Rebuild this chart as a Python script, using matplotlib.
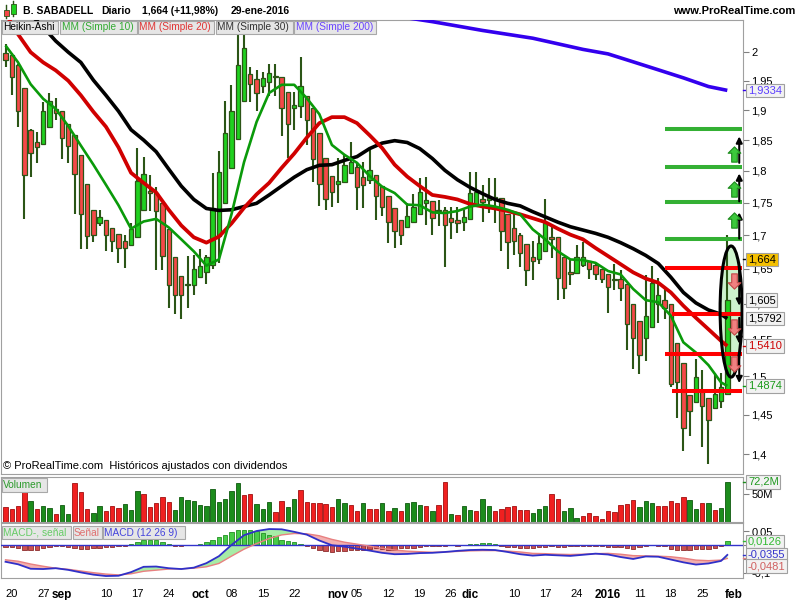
import matplotlib
matplotlib.use("Agg")
import matplotlib.pyplot as plt
import matplotlib.transforms as mtransforms
from matplotlib.patches import Ellipse, Rectangle
from matplotlib.path import Path
from matplotlib.ticker import FixedLocator, FixedFormatter, NullLocator
import numpy as np
import pandas as pd

plt.rcParams['font.family'] = ['Liberation Sans', 'DejaVu Sans']

# trading calendar (Madrid, no session on 25-dic and 1-ene)
days = pd.bdate_range('2015-08-19', '2016-02-01')
days = days[~days.isin(pd.to_datetime(['2015-12-25', '2016-01-01']))]

# Heikin-Ashi candles, 19-ago-2015 .. 29-ene-2016
ha_open = [1.999, 1.995, 1.977, 1.937, 1.866, 1.847, 1.843, 1.871, 1.902, 1.898,
           1.877, 1.858, 1.826, 1.779, 1.739, 1.719, 1.723, 1.711, 1.702, 1.692,
           1.686, 1.697, 1.738, 1.769, 1.765, 1.749, 1.709, 1.667, 1.640, 1.626,
           1.627, 1.638, 1.646, 1.656, 1.699, 1.749, 1.805, 1.852, 1.915, 1.961,
           1.953, 1.941, 1.948, 1.956, 1.957, 1.930, 1.903, 1.906, 1.924, 1.904,
           1.861, 1.821, 1.792, 1.779, 1.782, 1.796, 1.806, 1.791, 1.785, 1.793,
           1.776, 1.760, 1.741, 1.724, 1.713, 1.721, 1.732, 1.750, 1.752, 1.739,
           1.738, 1.727, 1.724, 1.721, 1.725, 1.745, 1.756, 1.754, 1.756, 1.757,
           1.732, 1.711, 1.701, 1.687, 1.668, 1.665, 1.676, 1.698, 1.697, 1.667,
           1.645, 1.644, 1.656, 1.662, 1.656, 1.650, 1.643, 1.636, 1.635, 1.628,
           1.600, 1.576, 1.552, 1.567, 1.599, 1.605, 1.600, 1.545, 1.518, 1.476,
           1.466, 1.482, 1.472, 1.458, 1.468, 1.477]
ha_high = [2.015, 1.998, 1.980, 1.937, 1.868, 1.864, 1.914, 1.929, 1.920, 1.898,
           1.877, 1.858, 1.826, 1.779, 1.739, 1.739, 1.723, 1.711, 1.702, 1.700,
           1.718, 1.837, 1.823, 1.794, 1.775, 1.749, 1.709, 1.667, 1.640, 1.669,
           1.670, 1.679, 1.670, 1.797, 1.832, 1.915, 1.943, 2.050, 2.050, 1.974,
           1.968, 1.966, 1.979, 1.980, 1.957, 1.930, 1.931, 1.992, 1.924, 1.904,
           1.861, 1.821, 1.792, 1.821, 1.825, 1.847, 1.812, 1.815, 1.833, 1.793,
           1.776, 1.760, 1.741, 1.724, 1.750, 1.763, 1.789, 1.791, 1.752, 1.754,
           1.744, 1.744, 1.744, 1.739, 1.799, 1.799, 1.778, 1.789, 1.789, 1.757,
           1.732, 1.732, 1.703, 1.687, 1.692, 1.703, 1.756, 1.714, 1.698, 1.667,
           1.664, 1.686, 1.690, 1.662, 1.657, 1.650, 1.643, 1.657, 1.649, 1.628,
           1.600, 1.576, 1.641, 1.655, 1.637, 1.623, 1.600, 1.545, 1.518, 1.476,
           1.523, 1.508, 1.472, 1.505, 1.505, 1.700]
ha_low = [1.974, 1.925, 1.872, 1.725, 1.790, 1.812, 1.843, 1.871, 1.884, 1.819,
          1.812, 1.733, 1.680, 1.680, 1.690, 1.714, 1.677, 1.675, 1.659, 1.652,
          1.686, 1.697, 1.738, 1.737, 1.649, 1.649, 1.594, 1.585, 1.578, 1.594,
          1.613, 1.637, 1.628, 1.650, 1.659, 1.749, 1.805, 1.852, 1.915, 1.914,
          1.898, 1.929, 1.923, 1.923, 1.856, 1.821, 1.867, 1.886, 1.842, 1.783,
          1.745, 1.739, 1.743, 1.750, 1.782, 1.796, 1.739, 1.742, 1.779, 1.724,
          1.730, 1.689, 1.681, 1.686, 1.713, 1.720, 1.732, 1.716, 1.701, 1.714,
          1.653, 1.695, 1.704, 1.707, 1.725, 1.745, 1.720, 1.734, 1.719, 1.677,
          1.650, 1.670, 1.653, 1.625, 1.634, 1.657, 1.676, 1.666, 1.605, 1.607,
          1.627, 1.644, 1.653, 1.635, 1.634, 1.629, 1.587, 1.619, 1.604, 1.536,
          1.510, 1.503, 1.521, 1.567, 1.573, 1.578, 1.486, 1.445, 1.404, 1.423,
          1.466, 1.409, 1.388, 1.458, 1.458, 1.477]
ha_close = [1.987, 1.957, 1.898, 1.794, 1.829, 1.838, 1.898, 1.915, 1.895, 1.853,
            1.841, 1.795, 1.732, 1.699, 1.701, 1.728, 1.700, 1.691, 1.681, 1.681,
            1.710, 1.784, 1.795, 1.765, 1.737, 1.669, 1.626, 1.613, 1.612, 1.628,
            1.650, 1.654, 1.667, 1.742, 1.799, 1.861, 1.898, 1.977, 2.007, 1.945,
            1.929, 1.955, 1.964, 1.959, 1.903, 1.876, 1.909, 1.941, 1.883, 1.819,
            1.780, 1.756, 1.766, 1.784, 1.810, 1.815, 1.775, 1.778, 1.801, 1.760,
            1.744, 1.721, 1.707, 1.701, 1.729, 1.744, 1.767, 1.754, 1.727, 1.737,
            1.715, 1.720, 1.719, 1.728, 1.765, 1.767, 1.751, 1.758, 1.759, 1.706,
            1.690, 1.691, 1.673, 1.649, 1.661, 1.688, 1.719, 1.695, 1.637, 1.622,
            1.643, 1.668, 1.668, 1.650, 1.643, 1.636, 1.624, 1.634, 1.622, 1.571,
            1.552, 1.529, 1.582, 1.630, 1.612, 1.594, 1.490, 1.492, 1.433, 1.455,
            1.499, 1.461, 1.443, 1.477, 1.486, 1.605]

# volume in millions, colour of each day
volume = [27.7, 24, 29.5, 55, 38.5, 24, 29.5, 26, 15, 30.7,
          15, 71, 54, 24, 17, 29.5, 20.5, 29.5, 26, 33,
          22, 56.5, 51, 27.7, 35, 45.7, 36.7, 22, 45.7, 40,
          38.5, 31, 29.5, 60, 36.7, 42, 56.5, 71, 49, 51,
          33, 24, 36.7, 18.6, 38.5, 27.7, 42, 58, 36.7, 35,
          35, 33, 27.7, 42, 35, 31, 20.5, 35, 24, 24,
          35, 20.5, 26, 20.5, 34.3, 36.1, 31.3, 29.5, 19.9, 31.3,
          72.2, 15, 12.6, 28.9, 21.7, 19.9, 41.5, 28.9, 20.5, 23.5,
          27.1, 29.5, 21.7, 21.7, 16.2, 23.5, 28.9, 50.5, 41.5, 19.9,
          25.3, 7.2, 11.4, 16.2, 10.8, 5.4, 19.9, 18, 31.3, 33.1,
          39.7, 27.7, 37.9, 34.3, 29.5, 29.5, 37.9, 34.3, 45.1, 39.7,
          23.5, 34.3, 34.3, 21.7, 25.3, 72.2]
vol_dir = ("RRRRGRGGRGGRRRGGRRRGGGRRRRRGGGGGGGGGGGRRGGGRRGGRRRRRRGGRRGRRGRG"
           "RGGGRGRRGRGGRGGRRRRRRGGGRRGGGRRRRRRRRRGGGRRRRRGGRGRGG")

# moving averages and MACD lines, read every second session
ma_idx = list(range(0, 116, 2)) + [115]
sma10 = [2.012, 1.982, 1.944, 1.919, 1.902, 1.873, 1.841, 1.810, 1.778, 1.746,
         1.710, 1.721, 1.725, 1.712, 1.694, 1.676, 1.655, 1.664, 1.732, 1.814,
         1.880, 1.929, 1.943, 1.943, 1.920, 1.893, 1.842, 1.826, 1.813, 1.792,
         1.775, 1.765, 1.747, 1.746, 1.735, 1.734, 1.737, 1.744, 1.747, 1.744,
         1.739, 1.732, 1.709, 1.694, 1.676, 1.664, 1.663, 1.659, 1.647, 1.642,
         1.621, 1.605, 1.602, 1.583, 1.546, 1.532, 1.515, 1.492, 1.4874]
sma20 = [2.070, 2.032, 2.000, 1.982, 1.968, 1.950, 1.925, 1.897, 1.872, 1.838,
         1.797, 1.781, 1.766, 1.739, 1.715, 1.697, 1.689, 1.698, 1.718, 1.742,
         1.763, 1.781, 1.805, 1.828, 1.854, 1.878, 1.888, 1.888, 1.878, 1.858,
         1.837, 1.810, 1.791, 1.776, 1.762, 1.759, 1.755, 1.748, 1.744, 1.741,
         1.737, 1.732, 1.726, 1.720, 1.710, 1.701, 1.694, 1.681, 1.669, 1.657,
         1.645, 1.636, 1.630, 1.616, 1.597, 1.580, 1.564, 1.548, 1.541]
sma30 = [2.120, 2.090, 2.068, 2.045, 2.020, 2.000, 1.982, 1.951, 1.925, 1.898,
         1.867, 1.850, 1.831, 1.803, 1.776, 1.755, 1.741, 1.738, 1.739, 1.744,
         1.749, 1.762, 1.776, 1.790, 1.802, 1.809, 1.810, 1.817, 1.823, 1.836,
         1.845, 1.849, 1.846, 1.836, 1.820, 1.801, 1.786, 1.774, 1.764, 1.755,
         1.749, 1.745, 1.736, 1.728, 1.720, 1.713, 1.708, 1.703, 1.697, 1.689,
         1.680, 1.670, 1.658, 1.638, 1.616, 1.601, 1.591, 1.585, 1.579]
sma200_idx = [60, 64, 68, 72, 76, 80, 84, 88, 92, 96, 100, 104, 108, 112, 115]
sma200 = [2.068, 2.062, 2.055, 2.047, 2.039, 2.032, 2.025, 2.015, 2.005, 1.997,
          1.983, 1.969, 1.955, 1.940, 1.9334]
macd = [-0.060, -0.069, -0.085, -0.086, -0.083, -0.089, -0.098, -0.106, -0.111, -0.110,
        -0.097, -0.078, -0.077, -0.083, -0.086, -0.081, -0.065, -0.040, -0.000, 0.035,
        0.050, 0.057, 0.056, 0.047, 0.037, 0.016, -0.001, -0.006, -0.013, -0.020,
        -0.028, -0.033, -0.032, -0.029, -0.028, -0.025, -0.021, -0.018, -0.017, -0.018,
        -0.025, -0.033, -0.038, -0.035, -0.037, -0.039, -0.035, -0.031, -0.034, -0.043,
        -0.050, -0.041, -0.042, -0.052, -0.062, -0.070, -0.066, -0.057, -0.0355]
signal = [-0.053, -0.058, -0.068, -0.076, -0.083, -0.087, -0.093, -0.099, -0.104, -0.107,
          -0.103, -0.094, -0.090, -0.086, -0.085, -0.083, -0.078, -0.066, -0.040, -0.015,
          0.005, 0.023, 0.036, 0.041, 0.040, 0.033, 0.020, 0.010, 0.003, -0.004,
          -0.012, -0.018, -0.022, -0.024, -0.026, -0.025, -0.023, -0.021, -0.020, -0.020,
          -0.022, -0.025, -0.030, -0.031, -0.033, -0.034, -0.033, -0.031, -0.030, -0.033,
          -0.038, -0.039, -0.040, -0.042, -0.047, -0.054, -0.056, -0.054, -0.0481]
macd_hist = [-0.007, -0.007, -0.012, -0.019, -0.019, -0.017, -0.012, -0.007, -0.003, -0.004,
             -0.007, -0.010, -0.013, -0.013, -0.010, -0.010, -0.008, -0.006, -0.004, -0.002,
             0.003, 0.012, 0.019, 0.019, 0.017, 0.010, 0.002, -0.004, -0.004, -0.001,
             0.001, 0.005, 0.010, 0.017, 0.029, 0.037, 0.045, 0.055, 0.055, 0.052,
             0.049, 0.043, 0.037, 0.031, 0.017, 0.014, 0.010, 0.005, -0.005, -0.011,
             -0.017, -0.023, -0.024, -0.023, -0.020, -0.018, -0.019, -0.017, -0.014, -0.012,
             -0.014, -0.017, -0.017, -0.012, -0.012, -0.010, -0.006, -0.003, -0.002, -0.003,
             -0.002, 0.000, -0.002, 0.000, 0.003, 0.004, 0.006, 0.006, 0.004, -0.002,
             -0.006, -0.008, -0.010, -0.011, -0.011, -0.008, -0.007, -0.004, -0.006, -0.006,
             -0.005, -0.005, -0.004, -0.002, -0.003, -0.005, -0.006, -0.007, -0.008, -0.010,
             -0.014, -0.008, -0.003, -0.001, -0.002, -0.005, -0.013, -0.017, -0.019, -0.017,
             -0.015, -0.014, -0.013, -0.010, -0.005, 0.0126]

# hand drawn levels on the right
green_levels = [1.868, 1.806, 1.7505, 1.695]
red_levels = [1.652, 1.585, 1.530, 1.480]
up_arrows = [(1.695, 1.735), (1.752, 1.796), (1.813, 1.856)]
down_arrows = [(1.650, 1.597), (1.580, 1.544), (1.526, 1.491)]
green_marks = [1.723, 1.771, 1.8275]
red_marks = [1.632, 1.567, 1.517]
ellipse_top, ellipse_bot = 1.684, 1.499

price_ticks = [1.4, 1.45, 1.5, 1.55, 1.6, 1.65, 1.7, 1.75, 1.8, 1.85, 1.9, 1.95, 2.0]
price_tick_lbls = ['1,4', '1,45', '1,5', '1,55', '1,6', '1,65', '1,7', '1,75', '1,8',
                   '1,85', '1,9', '1,95', '2']

tick_dates = ['2015-08-20', '2015-08-27', '2015-09-01', '2015-09-10', '2015-09-17',
              '2015-09-24', '2015-10-01', '2015-10-08', '2015-10-15', '2015-10-22',
              '2015-11-02', '2015-11-05', '2015-11-12', '2015-11-19', '2015-11-26',
              '2015-12-01', '2015-12-10', '2015-12-17', '2015-12-24', '2016-01-04',
              '2016-01-11', '2016-01-18', '2016-01-25', '2016-02-01']
tick_lbls = ['20', '27', 'sep', '10', '17', '24', 'oct', '08', '15', '22', 'nov', '05',
             '12', '19', '26', 'dic', '10', '17', '24', '2016', '11', '18', '25', 'feb']
month_lbls = {'sep', 'oct', 'nov', 'dic', '2016', 'feb'}

# ------------------------------------------------------------------
W, H = 800, 600
fig = plt.figure(figsize=(8, 6), dpi=100)
fig.patch.set_facecolor('white')


def px_axes(x0, y0, x1, y1):
    return fig.add_axes([x0 / W, 1 - y1 / H, (x1 - x0) / W, (y1 - y0) / H])


def fig_rect(x0, y0, x1, y1, fc, ec, lw=0.8, z=1):
    fig.patches.append(Rectangle((x0 / W, 1 - y1 / H), (x1 - x0) / W, (y1 - y0) / H,
                                 transform=fig.transFigure, fc=fc, ec=ec, lw=lw, zorder=z))


def legend_box(x0, x1, y0, y1, text, color):
    fig_rect(x0, y0, x1, y1, '#e6e6e6', '#a8a8a8', z=5)
    fig.text((x0 + 1.5) / W, 1 - (y0 + y1) / 2 / H, text, color=color, fontsize=7.3,
             va='center', ha='left', zorder=6)


ax = px_axes(0.5, 20, 743, 474)
axv = px_axes(0.5, 477, 743, 522)
axm = px_axes(0.5, 523, 743, 578)

x = np.arange(len(ha_open))
o = np.array(ha_open)
c = np.array(ha_close)
up = c >= o
wick_col = '#2b5516'

for a in (ax, axv, axm):
    a.set_xlim(-0.8, 117.5)
    for s in a.spines.values():
        s.set_color('#a0a0a0')
        s.set_linewidth(0.8)
    a.tick_params(axis='x', bottom=False, labelbottom=False)
    a.yaxis.tick_right()
    a.tick_params(axis='y', direction='out', length=4, width=0.8, color='#808080',
                  labelsize=8, pad=2)

# ---- price panel
ax.set_yscale('log')
ax.set_ylim(1.3755, 2.058)
ax.yaxis.set_major_locator(FixedLocator(price_ticks))
ax.yaxis.set_major_formatter(FixedFormatter(price_tick_lbls))
ax.yaxis.set_minor_locator(NullLocator())

ax.vlines(x, ha_low, ha_high, color=wick_col, lw=1.5, zorder=2)
ax.bar(x, np.maximum(np.abs(c - o), 0.0015), bottom=np.minimum(o, c), width=0.7,
       color=np.where(up, '#1fd11f', '#f54848'), edgecolor=wick_col, linewidth=0.9,
       zorder=3)

ax.plot(sma200_idx, sma200, color='#3300ee', lw=2.6, zorder=4, solid_capstyle='butt')
ax.plot(ma_idx, sma30, color='black', lw=2.6, zorder=4, solid_capstyle='butt')
ax.plot(ma_idx, sma20, color='#d00000', lw=2.7, zorder=4, solid_capstyle='butt')
ax.plot(ma_idx, sma10, color='#0a9a0a', lw=1.9, zorder=4, solid_capstyle='butt')

# hand drawn analysis
ec = (ellipse_top + ellipse_bot) / 2
eh = ellipse_top - ellipse_bot
ax.add_patch(Ellipse((115.6, ec), 3.5, eh, fc='#cdf2cd', ec='none', zorder=1.5))
ax.add_patch(Ellipse((115.6, ec), 3.5, eh, fc='none', ec='black', lw=2.2, zorder=7))
for g in green_levels:
    ax.plot([105.1, 117.3], [g, g], color='#34b034', lw=2.9, zorder=6,
            solid_capstyle='butt')
for r, x0 in zip(red_levels, [105.1, 106.2, 105.1, 106.2]):
    ax.plot([x0, 117.3], [r, r], color='#ff0000', lw=2.9, zorder=6,
            solid_capstyle='butt')
for base, tip in up_arrows + down_arrows:
    ax.annotate('', xy=(116.9, tip), xytext=(116.9, base), annotation_clip=False,
                arrowprops=dict(arrowstyle='-|>', color='black', lw=1.5,
                                mutation_scale=9, shrinkA=0, shrinkB=0), zorder=8)
up_path = Path([(-0.5, 0.1), (0, 0.6), (0.5, 0.1), (0.22, 0.1), (0.22, -0.6),
                (-0.22, -0.6), (-0.22, 0.1), (-0.5, 0.1)], closed=True)
down_path = Path([(px, -py) for px, py in up_path.vertices], closed=True)
for g in green_marks:
    ax.plot(116.1, g, marker=up_path, ms=11, mfc='#3cc83c', mec='#1c8a1c', mew=0.8,
            zorder=8, clip_on=False)
for r in red_marks:
    ax.plot(116.1, r, marker=down_path, ms=11, mfc='#f08080', mec='#c04848', mew=0.8,
            zorder=8, clip_on=False)

ax.text(0.004, 0.017, '\u00a9 ProRealTime.com  Hist\u00f3ricos ajustados con dividendos',
        transform=ax.transAxes, fontsize=8, va='center', ha='left')


def value_box(axis, v, s, tc, bg='#f2f2f2', mark=None, dy=0):
    tr = mtransforms.blended_transform_factory(axis.transAxes, axis.transData)
    if mark:
        axis.plot([1.0, 1.006], [v, v], transform=tr, color=mark, lw=1.0,
                  clip_on=False, zorder=9)
    axis.annotate(s, xy=(1.0067, v), xycoords=tr, xytext=(0, dy),
                  textcoords='offset points', fontsize=8, va='center', ha='left',
                  color=tc, annotation_clip=False, zorder=10,
                  bbox=dict(boxstyle='square,pad=0.15', fc=bg, ec='#a0a0a0', lw=0.8))


value_box(ax, 1.9334, '1,9334', '#5a3cff', mark='#3300ee')
value_box(ax, 1.664, '1,664', 'black', bg='#f5c000', mark='black')
value_box(ax, 1.605, '1,605', 'black')
value_box(ax, 1.5792, '1,5792', 'black')
value_box(ax, 1.5410, '1,5410', '#cc0000', mark='#d00000')
value_box(ax, 1.4874, '1,4874', '#1a9a1a', mark='#0a9a0a')

# ---- volume panel
axv.set_ylim(0, 81.2)
axv.bar(x, volume, width=0.7,
        color=['#1c8c1c' if d == 'G' else '#f02020' for d in vol_dir],
        edgecolor=['#0f5a0f' if d == 'G' else '#a01010' for d in vol_dir],
        linewidth=0.6)
axv.yaxis.set_major_locator(FixedLocator([50]))
axv.yaxis.set_major_formatter(FixedFormatter(['50M']))
value_box(axv, 72.2, '72,2M', '#1f9a1f', mark='#1c8c1c')

# ---- MACD panel
axm.set_ylim(-0.118, 0.0786)
hist = np.array(macd_hist)
mv = np.array(macd)
sv = np.array(signal)
axm.fill_between(ma_idx, mv, sv, where=mv >= sv, interpolate=True, color='#a6eca6',
                 lw=0, zorder=2)
axm.fill_between(ma_idx, mv, sv, where=mv < sv, interpolate=True, color='#f2b0b0',
                 lw=0, zorder=2)
axm.bar(x, hist, width=0.7, color=np.where(hist >= 0, '#48cc48', '#cc5050'),
        edgecolor=np.where(hist >= 0, '#239023', '#8c2c2c'), linewidth=0.6, zorder=3)
axm.axhline(0, color='#3333cc', lw=1.0, zorder=3.5)
axm.plot(ma_idx, signal, color='#e88080', lw=1.0, zorder=4)
axm.plot(ma_idx, macd, color='#3030c8', lw=1.3, zorder=4)
axm.yaxis.set_major_locator(FixedLocator([0.05, 0, -0.05, -0.1]))
axm.yaxis.set_major_formatter(FixedFormatter(['0,05', '0', '-0,05', '-0,1']))
value_box(axm, 0.0126, '0,0126', '#33bb33', mark='#33bb33')
value_box(axm, -0.0355, '-0,0355', '#3333cc', mark='#3333cc')
value_box(axm, -0.0481, '-0,0481', '#d06060', mark='#e88080', dy=-5.5)

tick_pos = [days.get_loc(pd.Timestamp(d)) for d in tick_dates]
axm.set_xticks(tick_pos)
axm.set_xticklabels(tick_lbls)
axm.tick_params(axis='x', bottom=False, labelbottom=True, labelsize=8, pad=4.5)
for t in axm.get_xticklabels():
    if t.get_text() in month_lbls:
        t.set_fontweight('bold')
        t.set_fontsize(8.5)

# ---- header and legends
hy = 1 - 10.5 / H
fig.text(23 / W, hy, 'B. SABADELL', fontsize=7.5, weight='bold', va='center')
fig.text(101.5 / W, hy, 'Diario', fontsize=7.5, weight='bold', va='center')
fig.text(142.5 / W, hy, '1,664 (+11,98%)', fontsize=7.5, weight='bold', va='center')
fig.text(230.5 / W, hy, '29-ene-2016', fontsize=7.5, weight='bold', va='center')
fig.text(795 / W, hy, 'www.ProRealTime.com', fontsize=8, weight='bold',
         va='center', ha='right')
fig_rect(6, 5, 7, 19, wick_col, wick_col, lw=0.3)
fig_rect(4, 10, 9, 16, '#f54848', wick_col, lw=0.6)
fig_rect(13, 1, 14, 17, wick_col, wick_col, lw=0.3)
fig_rect(11, 4, 16, 14, '#1fd11f', wick_col, lw=0.6)

legend_box(1.5, 58.5, 21, 34, 'Heikin-Ashi', 'black')
legend_box(60, 136.5, 21, 34, 'MM (Simple 10)', '#33aa33')
legend_box(137.5, 214, 21, 34, 'MM (Simple 20)', '#e03535')
legend_box(216, 292.5, 21, 34, 'MM (Simple 30)', '#333333')
legend_box(294, 376, 21, 34, 'MM (Simple 200)', '#6a44ff')
legend_box(1.5, 47, 478, 492, 'Volumen', '#2a9a2a')
legend_box(1.5, 71, 526, 539, 'MACD-, se\u00f1al', '#66cc66')
legend_box(72.5, 101.5, 526, 539, 'Se\u00f1al', '#e07070')
legend_box(103, 185, 526, 539, 'MACD (12 26 9)', '#4444dd')

fig.savefig('out.png', dpi=100)
